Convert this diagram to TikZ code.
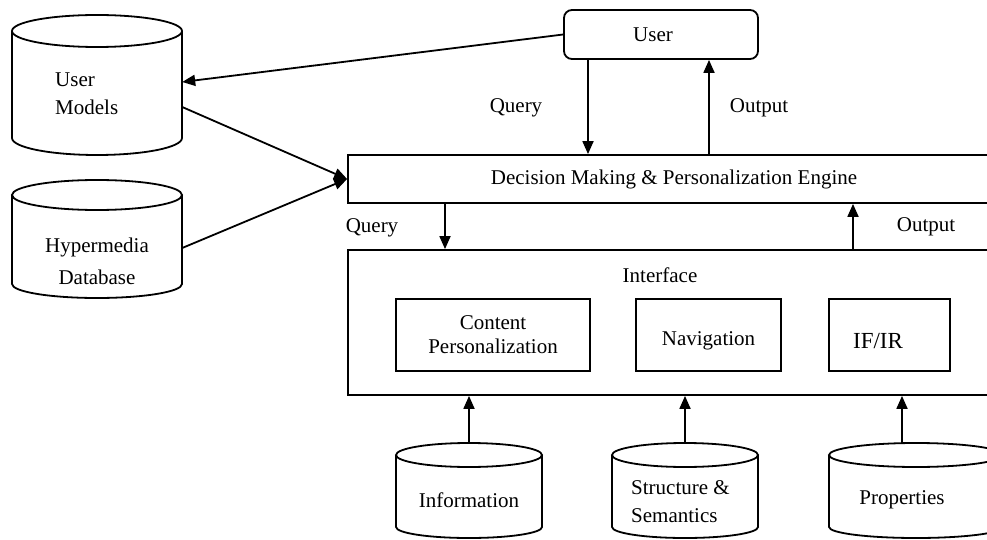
\documentclass[tikz,border=0pt]{standalone}
\usepackage{fontspec}
\setmainfont{Liberation Serif}
\usetikzlibrary{arrows.meta,calc}
\tikzset{
  box/.style={draw, line width=1.8pt, inner sep=0pt, align=center, font=\fontsize{21}{24}\selectfont},
  txt/.style={inner sep=0pt, align=center, font=\fontsize{21}{24}\selectfont},
  ghost/.style={inner sep=0pt},
  arr/.style={line width=1.8pt, -{Triangle[length=13pt,width=11pt]}},
  ln/.style={line width=1.8pt},
}
\newcommand\mycyl[6]{% x1, x2, top centre y, bottom centre y, top ry, bottom ry
  \draw[ln, fill=white] (#1,#3) -- (#1,#4) arc[start angle=180, end angle=360, x radius={(#2-#1)/2*1pt}, y radius=#6pt] -- (#2,#3);
  \draw[ln] ({(#1+#2)/2},#3) ellipse[x radius={(#2-#1)/2*1pt}, y radius=#5pt];
}
\begin{document}
\begin{tikzpicture}[x=1pt,y=1pt]
\useasboundingbox (0,0) rectangle (987,539);
\clip (0,0) rectangle (987,539);
\fill[white] (0,0) rectangle (987,539);

% cylinders
\mycyl{12}{182}{508}{401}{16}{17}
\node[ghost, minimum width=170pt, minimum height=140pt] (um) at (97,454) {};
\node[txt, anchor=west] (umt1) at (55,459) {User};
\node[txt, anchor=west] (umt2) at (55,432) {Models};

\mycyl{12}{182}{344}{255}{15}{14}
\node[ghost, minimum width=170pt, minimum height=118pt] (hd) at (97,300) {};
\node[txt] (hdt1) at (97,292) {Hypermedia};
\node[txt] (hdt2) at (97,262) {Database};

\mycyl{396}{542}{84}{12}{12}{11}
\node[ghost, minimum width=146pt, minimum height=95pt] (info) at (469,48.5) {};
\node[txt] (infot) at (469,39) {Information};

\mycyl{612}{758}{84}{12}{12}{11}
\node[ghost, minimum width=146pt, minimum height=95pt] (struct) at (685,48.5) {};
\node[txt, anchor=west] (st1) at (631,51) {Structure \&};
\node[txt, anchor=west] (st2) at (631,23) {Semantics};

\mycyl{829}{1003}{84}{12}{12}{11}
\node[ghost, minimum width=174pt, minimum height=95pt] (props) at (916,48.5) {};
\node[txt] (propst) at (902,39) {Properties};

% boxes
\node[box, rounded corners=8pt, minimum width=194pt, minimum height=49pt] (user) at (661,504.5) {\hspace*{-16pt}User};
\node[box, minimum width=652pt, minimum height=48pt] (engine) at (674,360) {Decision Making \& Personalization Engine};
\node[box, minimum width=652pt, minimum height=145pt] (iface) at (674,216.5) {};
\node[txt] (ifacet) at (660,264) {Interface};
\node[box, minimum width=194pt, minimum height=72pt] (content) at (493,204) {Content\\Personalization};
\node[box, minimum width=145pt, minimum height=72pt] (nav) at (708.5,204) {};
\node[txt] (navt) at (708.5,198) {Navigation};
\node[box, minimum width=121pt, minimum height=72pt] (ifir) at (889.5,204) {};
\node[txt, font=\fontsize{23}{26}\selectfont] (ifirt) at (878,198) {IF/IR};

% connectors
\draw[arr] (user.west) -- ($(um.east)+(0,3)$);
\draw[arr] ($(um.east)+(0,-22)$) -- (engine.west);
\draw[arr] ($(hd.east)+(0,-9)$) -- (engine.west);

\draw[arr] (user.south -| 588,0) -- (engine.north -| 588,0);
\draw[arr] (engine.north -| 709,0) -- (user.south -| 709,0);
\draw[arr] (engine.south -| 445,0) -- (iface.north -| 445,0);
\draw[arr] (iface.north -| 853,0) -- (engine.south -| 853,0);

\draw[arr] (info.north) -- (info.north |- iface.south);
\draw[arr] (struct.north) -- (struct.north |- iface.south);
\draw[arr] (props.north -| 902,0) -- (iface.south -| 902,0);

% labels
\node[txt] (q1) at (516,431) {Query};
\node[txt] (o1) at (759,431) {Output};
\node[txt] (q2) at (372,311) {Query};
\node[txt] (o2) at (926,312) {Output};
\end{tikzpicture}
\end{document}
